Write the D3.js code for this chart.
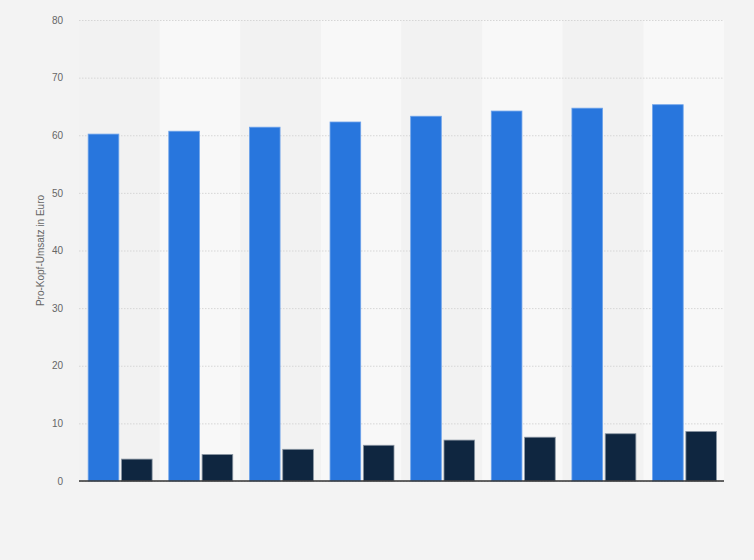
<!DOCTYPE html>
<html>
<head>
<meta charset="utf-8">
<script src="https://cdn.jsdelivr.net/npm/d3@7"></script>
<style>
  body { margin: 0; background: #f4f4f4; }
  svg { display: block; font-family: "Liberation Sans", Arial, sans-serif; }
</style>
</head>
<body>
<div id="chart"></div>
<script>
// values (no category labels shown in the original)
var categories = ['1', '2', '3', '4', '5', '6', '7', '8'];
var seriesA = [60.2, 60.7, 61.4, 62.3, 63.3, 64.2, 64.7, 65.3];
var seriesB = [3.8, 4.6, 5.5, 6.2, 7.1, 7.6, 8.2, 8.6];
var yTicks = [0, 10, 20, 30, 40, 50, 60, 70, 80];

var width = 754, height = 560;
var margin = { top: 20, right: 30, bottom: 79, left: 79 };

var svg = d3.select('#chart')
  .append('svg')
  .attr('width', width)
  .attr('height', height);

svg.append('rect')
  .attr('width', width)
  .attr('height', height)
  .attr('fill', '#f3f3f3');

var x = d3.scaleBand()
  .domain(categories)
  .range([margin.left, width - margin.right]);

var y = d3.scaleLinear()
  .domain([0, 80])
  .range([height - margin.bottom, margin.top]);

// alternating column shading
svg.append('g')
  .selectAll('rect')
  .data(categories)
  .enter().append('rect')
  .attr('x', function(d) { return x(d); })
  .attr('y', y(80))
  .attr('width', x.bandwidth())
  .attr('height', y(0) - y(80))
  .attr('fill', function(d, i) { return i % 2 ? '#f8f8f8' : '#f2f2f2'; });

// grid + tick labels
var yAxis = d3.axisLeft(y)
  .tickValues(yTicks)
  .tickSize(-(width - margin.left - margin.right))
  .tickPadding(16);

var gy = svg.append('g')
  .attr('transform', 'translate(' + margin.left + ',0)')
  .call(yAxis);

gy.select('.domain').remove();
gy.selectAll('line')
  .attr('stroke', '#d6d6d6')
  .attr('stroke-dasharray', '1.5,1.5');
gy.selectAll('text')
  .attr('fill', '#666')
  .style('font-size', '10px');

// grouped bars
var inner = d3.scaleBand()
  .domain(['a', 'b'])
  .range([0, x.bandwidth()])
  .paddingInner(0.08)
  .paddingOuter(0.25)
  .align(0.55);

var bars = svg.append('g');

bars.selectAll('.bar-a')
  .data(seriesA)
  .enter().append('rect')
  .attr('class', 'bar-a')
  .attr('x', function(d, i) { return x(categories[i]) + inner('a'); })
  .attr('y', function(d) { return y(d); })
  .attr('width', inner.bandwidth())
  .attr('height', function(d) { return y(0) - y(d); })
  .attr('fill', '#2876dd')
  .attr('stroke', '#6ea3ea')
  .attr('stroke-width', 0.8);

bars.selectAll('.bar-b')
  .data(seriesB)
  .enter().append('rect')
  .attr('class', 'bar-b')
  .attr('x', function(d, i) { return x(categories[i]) + inner('b'); })
  .attr('y', function(d) { return y(d); })
  .attr('width', inner.bandwidth())
  .attr('height', function(d) { return y(0) - y(d); })
  .attr('fill', '#0f2640')
  .attr('stroke', '#8a96a3')
  .attr('stroke-width', 0.8);

// baseline
svg.append('line')
  .attr('x1', margin.left)
  .attr('x2', width - margin.right)
  .attr('y1', y(0))
  .attr('y2', y(0))
  .attr('stroke', '#333')
  .attr('stroke-width', 1.5);

// axis title
svg.append('text')
  .attr('transform', 'translate(44,' + ((y(0) + y(80)) / 2) + ') rotate(-90)')
  .attr('text-anchor', 'middle')
  .attr('fill', '#666')
  .style('font-size', '10px')
  .text('Pro-Kopf-Umsatz in Euro');
</script>
</body>
</html>
